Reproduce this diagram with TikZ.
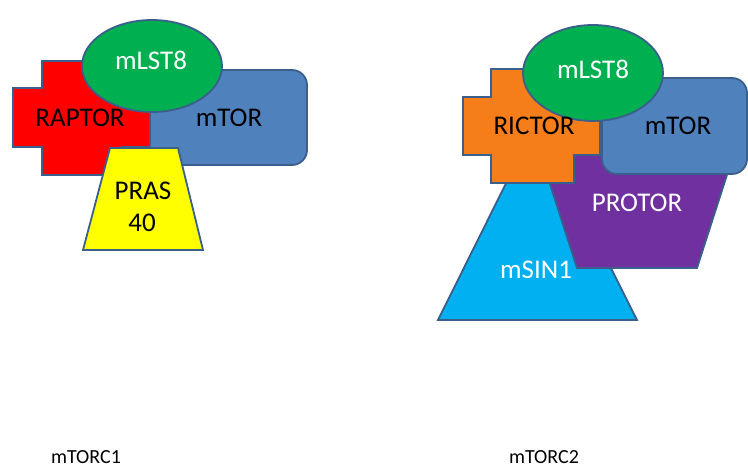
\documentclass[tikz,border=0pt]{standalone}
\usepackage{fontspec}
\setmainfont{Carlito}
\definecolor{edge}{HTML}{3A5F8B}
\definecolor{raptorred}{HTML}{FF0000}
\definecolor{torblue}{HTML}{4F81BD}
\definecolor{lstgreen}{HTML}{00B050}
\definecolor{prasyellow}{HTML}{FFFF00}
\definecolor{rictororange}{HTML}{F57D1A}
\definecolor{protorpurple}{HTML}{7030A0}
\definecolor{sincyan}{HTML}{00B0F0}
\tikzset{
  shapebox/.style={draw=edge, line width=1.8pt, line join=miter},
  lbl/.style={anchor=base, font=\fontsize{27}{30}\selectfont, inner sep=0pt},
  cplx/.style={anchor=base, font=\fontsize{20}{22}\selectfont, inner sep=0pt, text=black}
}
\begin{document}
\begin{tikzpicture}[x=1pt,y=-1pt]
\useasboundingbox (0,0) rectangle (748,468);
% ---------------- mTORC1 ----------------
% RAPTOR cross
\draw[shapebox, fill=raptorred] (42,61) -- (122,61) -- (122,88) -- (152,88) -- (152,147) -- (122,147)
  -- (122,175) -- (42,175) -- (42,147) -- (13,147) -- (13,88) -- (42,88) -- cycle;
% mTOR
\draw[shapebox, fill=torblue, rounded corners=15pt] (150,70) rectangle (307,165);
% mLST8
\draw[shapebox, fill=lstgreen] (152,66) ellipse [x radius=70pt, y radius=46pt];
% PRAS40
\draw[shapebox, fill=prasyellow] (110,148) -- (178,148) -- (203,250) -- (83,250) -- cycle;
\node[lbl, text=black] (raptor) at (80,127) {RAPTOR};
\node[lbl, text=black] (mtor1) at (229,127) {mTOR};
\node[lbl, text=white] (mlst1) at (151,70) {mLST8};
\node[lbl, text=black] (pras) at (143,200) {PRAS};
\node[lbl, text=black] (pras40) at (142,232) {40};
% ---------------- mTORC2 ----------------
% mSIN1
\draw[shapebox, fill=sincyan] (537,121) -- (637,320) -- (438,320) -- cycle;
% PROTOR
\draw[shapebox, fill=protorpurple] (539,150) -- (735,150) -- (697,268) -- (577,268) -- cycle;
% mTOR
\draw[shapebox, fill=torblue, rounded corners=15pt] (602,78) rectangle (747,174);
% RICTOR cross
\draw[shapebox, fill=rictororange] (491,69) -- (574,69) -- (574,97) -- (600,97) -- (600,155) -- (574,155)
  -- (574,183) -- (491,183) -- (491,155) -- (463,155) -- (463,97) -- (491,97) -- cycle;
% mLST8
\draw[shapebox, fill=lstgreen] (593,73) ellipse [x radius=70pt, y radius=48pt];
\node[lbl, text=black] (rictor) at (534,135) {RICTOR};
\node[lbl, text=black] (mtor2) at (678,135) {mTOR};
\node[lbl, text=white] (mlst2) at (593,79) {mLST8};
\node[lbl, text=white] (protor) at (637,212) {PROTOR};
\node[lbl, text=white] (msin) at (536,279) {mSIN1};
% ---------------- captions ----------------
\node[cplx] (c1) at (86,463) {mTORC1};
\node[cplx] (c2) at (544,463) {mTORC2};
\end{tikzpicture}
\end{document}
